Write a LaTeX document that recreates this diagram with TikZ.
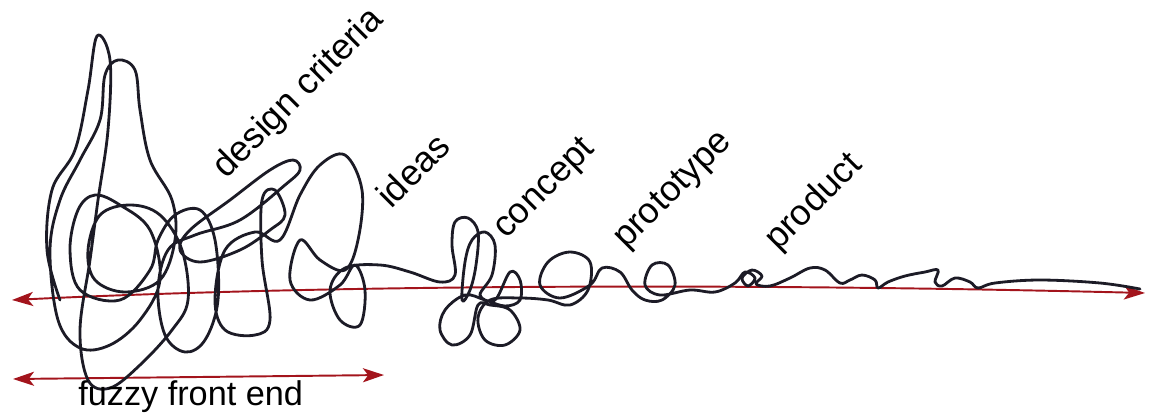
\documentclass[tikz,border=0pt]{standalone}
\usepackage{fontspec}
\setmainfont{Liberation Sans}
\usetikzlibrary{arrows.meta}
\definecolor{ink}{HTML}{1C1B26}
\definecolor{redline}{HTML}{A3141C}
\tikzset{
  squiggle/.style={draw=ink, line width=1.6pt, line join=round, line cap=round},
  axis/.style={draw=redline, line width=1.1pt, {Stealth[length=12pt,width=8pt,inset=3pt]}-{Stealth[length=12pt,width=8pt,inset=3pt]}},
  lbl/.style={font=\fontsize{19.5}{22}\selectfont, text=black, inner sep=0pt},
  stage/.style={lbl, font=\fontsize{20.5}{23}\selectfont, rotate=45, anchor=base west}
}
\begin{document}
\begin{tikzpicture}[x=0.02cm, y=-0.02cm]
\useasboundingbox (0,0) rectangle (1149,414);
% axes
\coordinate (axL) at (12,300);
\coordinate (axR) at (1145,293);
\coordinate (ffL) at (13,379);
\coordinate (ffR) at (384,375);
\draw[axis] (axL) .. controls (300,286) and (700,282) .. (axR);
\draw[axis] (ffL) -- (ffR);
% the squiggle
\draw[squiggle] plot[smooth, tension=0.6] coordinates {
(60,300) (47,250) (52,190) (75,150) (88,90) (97,36) (110,60) (108,130) (98,200)
(90,260) (80,330) (88,380) (110,388) (140,365) (172,330) (188,300) (182,250)
(160,215) (130,205) (100,215) (88,250) (95,280) (125,292) (160,280) (175,240)
(172,200) (150,160) (140,110) (135,70) (118,60) (105,75) (100,120) (80,160)
(60,200) (50,250) (58,320) (80,348) (110,345) (140,320) (160,280) (150,230)
(120,205) (95,195) (78,210) (70,250) (80,290) (120,300) (150,270) (158,240)
(175,215) (200,210) (215,240) (218,300) (205,340) (185,352) (165,335) (158,290)
(168,250) (195,235) (240,220) (285,185) (300,170) (293,160) (270,170) (230,200)
(190,230) (180,250) (200,262) (240,250) (270,230) (285,215) (275,190) (262,200)
(262,260) (270,320) (255,335) (225,330) (215,300) (225,250) (255,232) (280,240)
(300,195) (320,165) (345,155) (362,190) (358,240) (345,270) (320,260) (300,240)
(290,280) (310,300) (340,285) (355,265) (365,290) (360,325) (340,320) (330,290)
(345,268) (380,265) (410,272) (440,282)
(455,275) (452,245) (455,222) (468,218) (478,232) (476,265) (470,290)
(462,300) (465,262) (472,240) (485,232) (495,245) (492,275) (480,295)
(495,300) (510,272) (520,280) (520,300) (505,306) (485,300)
(465,295) (445,310) (440,330) (452,345) (470,335) (478,305)
(490,305) (510,310) (520,330) (505,345) (485,340) (478,318) (490,300)
(520,298) (548,300) (570,305) (588,290) (590,262) (570,252)
(548,262) (540,285) (560,298) (590,285) (602,268) (620,272) (632,290) (645,300)
(662,300) (675,285) (668,265) (652,265) (645,285) (660,295) (690,290) (715,292)
(735,283) (745,272) (755,278) (748,286) (742,278) (752,270) (762,276) (756,284)
(770,286) (790,278) (810,268) (825,270) (840,283) (850,280) (862,275) (875,280)
(878,288) (888,282) (905,276) (925,272) (938,270) (935,282) (942,286) (955,278)
(970,282) (978,288) (995,283) (1040,280) (1100,283) (1140,289)
};
% labels
\node[stage] (dc) at (226,180) {design criteria};
\node[stage] (id) at (391,210) {ideas};
\node[stage] (co) at (506,240) {concept};
\node[stage] (pt) at (626,250) {prototype};
\node[stage] (pr) at (778,252) {product};
\node[lbl, anchor=base west] (ff) at (78,405) {fuzzy front end};
\end{tikzpicture}
\end{document}
